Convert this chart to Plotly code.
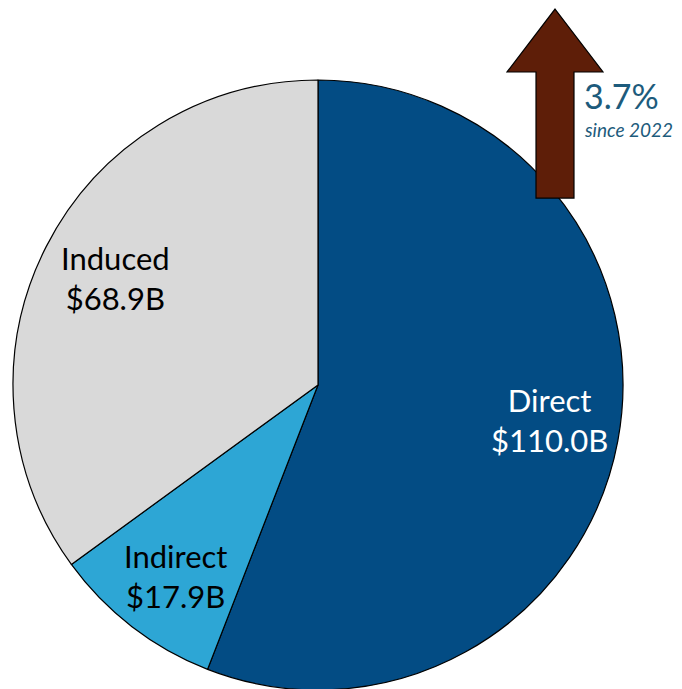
import plotly.graph_objects as go

# dados do grafico
segmentos = ['Direct', 'Indirect', 'Induced']
valores = [110.0, 17.9, 68.9]
cores = ['#034C84', '#2DA6D5', '#D9D9D9']
cores_texto = ['white', 'black', 'black']
variacao = '3.7%'
variacao_sub = 'since 2022'

W, H = 682, 689
OFF = 8  # margem do body da pagina


def fx(x):
    return (x - OFF) / W


def fy(y):
    return 1 - (y - OFF) / H


fig = go.Figure(go.Pie(
    labels=segmentos,
    values=valores,
    sort=False,
    direction='clockwise',
    rotation=0,
    marker=dict(colors=cores, line=dict(color='black', width=1.2)),
    textinfo='none',
    hoverinfo='label+value',
    domain=dict(x=[fx(13), fx(623)], y=[fy(690), fy(80)]),
    showlegend=False,
))

# posicoes dos rotulos (pixels)
pos_rotulos = [(549, 420), (175, 576), (115, 278)]
for nome, val, cor, (px, py) in zip(segmentos, valores, cores_texto, pos_rotulos):
    fig.add_annotation(
        x=fx(px), y=fy(py), xref='paper', yref='paper',
        xanchor='center', yanchor='middle',
        text=f'{nome}<br>${val:.1f}B', showarrow=False,
        font=dict(family='Lato', size=31, color=cor),
        align='center',
    )

# seta para cima
pts = [(555, 9), (603, 72), (574, 72), (574, 198), (536, 198), (536, 72), (507, 72)]
caminho = 'M ' + ' L '.join(f'{fx(x):.4f},{fy(y):.4f}' for x, y in pts) + ' Z'
fig.add_shape(type='path', path=caminho, xref='paper', yref='paper',
              fillcolor='#5E1E08', line=dict(color='black', width=1.2))

fig.add_annotation(x=fx(582), y=fy(95), xref='paper', yref='paper',
                   text=variacao, showarrow=False, xanchor='left', yanchor='middle',
                   font=dict(family='Lato', size=34, color='#1D5B7C'))
fig.add_annotation(x=fx(582), y=fy(129), xref='paper', yref='paper',
                   text=f'<i>{variacao_sub}</i>', showarrow=False, xanchor='left', yanchor='middle',
                   font=dict(family='Lato', size=19, color='#1D5B7C'))

fig.update_layout(
    width=W, height=H,
    margin=dict(l=0, r=0, t=0, b=0),
    paper_bgcolor='white',
    plot_bgcolor='white',
)

fig.write_html('out.html', config={'displayModeBar': False})
